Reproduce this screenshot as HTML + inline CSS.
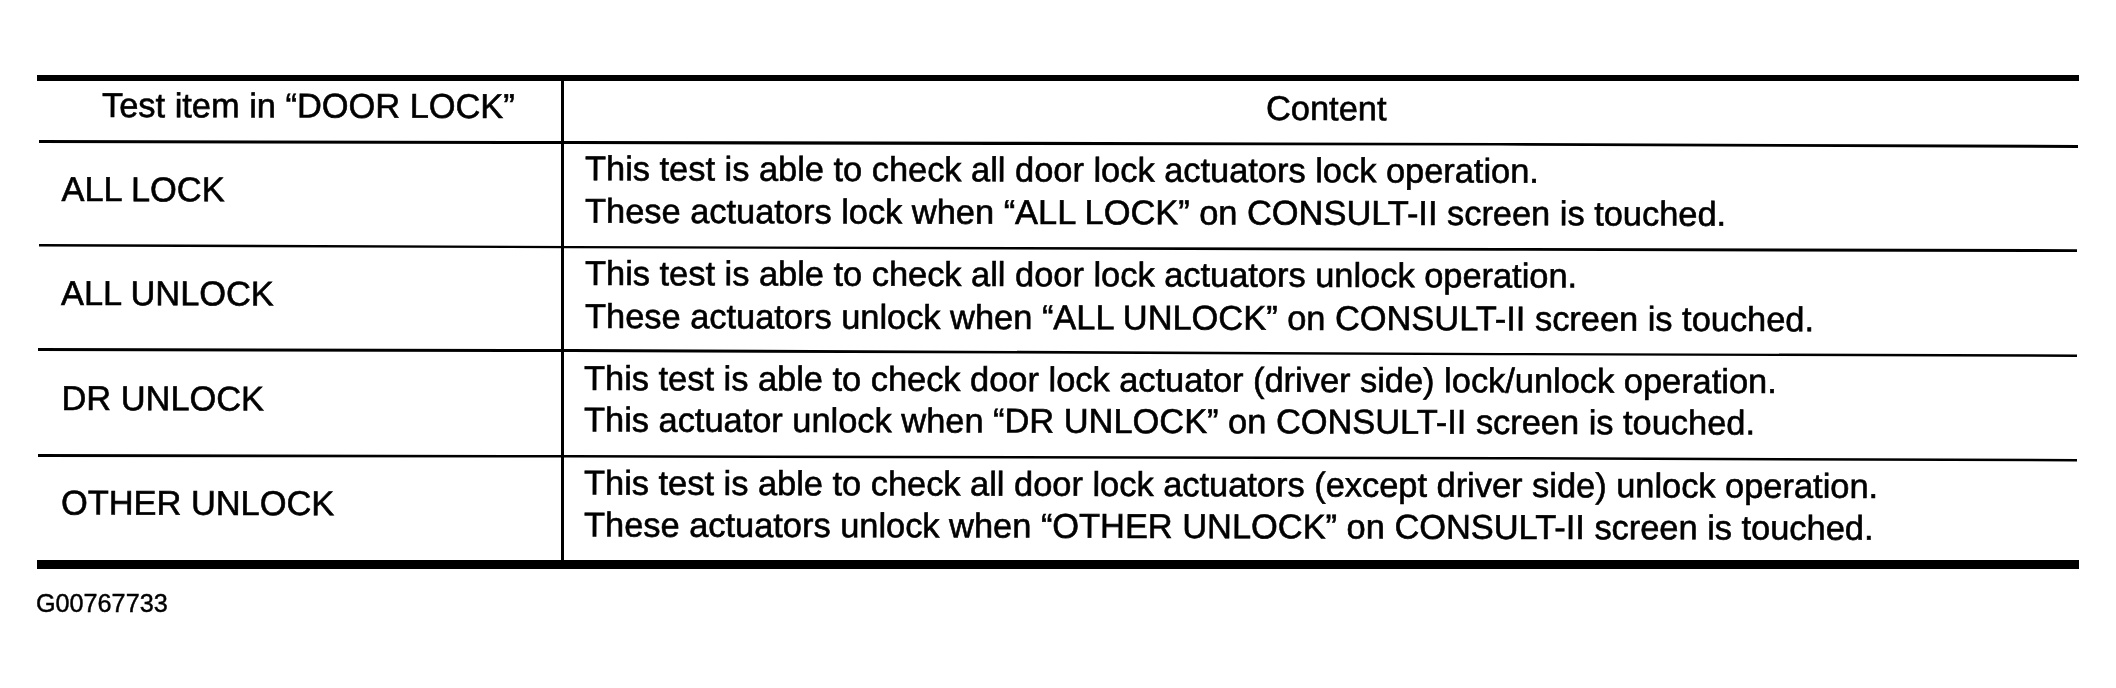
<!DOCTYPE html>
<html><head><meta charset="utf-8">
<style>
html,body{margin:0;padding:0;background:#fff;width:2116px;height:688px;overflow:hidden}
svg{display:block;filter:grayscale(1)}
text{font-family:"Liberation Sans",sans-serif;font-size:34.4px;fill:#000;stroke:#000;stroke-width:0.6px}
</style></head><body>
<svg width="2116" height="688" viewBox="0 0 2116 688">
<rect x="0" y="0" width="2116" height="688" fill="#fff"/>
<rect x="37" y="75" width="2042" height="6" fill="#000"/>
<rect x="37" y="560" width="2042" height="9" fill="#000"/>
<rect x="561" y="81" width="3" height="479" fill="#000"/>
<polygon points="39,140 570,141 1000,141.8 1500,142.9 2078,145 2078,148 1500,145.6 1000,144.9 570,144 39,143" fill="#000"/>
<polygon points="39,244 570,246 1500,248 2077,249.2 2077,252 1500,250.8 570,248.3 39,246.6" fill="#000"/>
<polygon points="38,348 570,349 1500,352.9 2077,354.4 2077,357 1500,355.2 570,352 38,351" fill="#000"/>
<polygon points="38,454 570,455 1500,456.9 2077,459 2077,461.5 1500,459.5 570,457.6 38,457" fill="#000"/>
<text x="102" y="117" transform="rotate(0.15 102 117)">Test item in “DOOR LOCK”</text>
<text x="1266" y="120" transform="rotate(0.15 1266 120)">Content</text>
<text x="61.5" y="201" transform="rotate(0.15 61.5 201)">ALL LOCK</text>
<text x="61" y="305" transform="rotate(0.15 61 305)">ALL UNLOCK</text>
<text x="61.5" y="410" transform="rotate(0.15 61.5 410)">DR UNLOCK</text>
<text x="61" y="514.5" transform="rotate(0.15 61 514.5)">OTHER UNLOCK</text>
<text x="585" y="180.3" transform="rotate(0.15 585 180.3)">This test is able to check all door lock actuators lock operation.</text>
<text x="585" y="222.8" transform="rotate(0.15 585 222.8)">These actuators lock when “ALL LOCK” on CONSULT-II screen is touched.</text>
<text x="585" y="285" transform="rotate(0.15 585 285)">This test is able to check all door lock actuators unlock operation.</text>
<text x="585" y="328" transform="rotate(0.15 585 328)">These actuators unlock when “ALL UNLOCK” on CONSULT-II screen is touched.</text>
<text x="584" y="390" transform="rotate(0.15 584 390)">This test is able to check door lock actuator (driver side) lock/unlock operation.</text>
<text x="584" y="431.5" transform="rotate(0.15 584 431.5)">This actuator unlock when “DR UNLOCK” on CONSULT-II screen is touched.</text>
<text x="584" y="494.6" transform="rotate(0.15 584 494.6)">This test is able to check all door lock actuators (except driver side) unlock operation.</text>
<text x="584" y="536.5" transform="rotate(0.15 584 536.5)">These actuators unlock when “OTHER UNLOCK” on CONSULT-II screen is touched.</text>
<text x="36" y="612" style="font-size:25.2px;stroke-width:0.45px">G00767733</text>
</svg>
</body></html>
